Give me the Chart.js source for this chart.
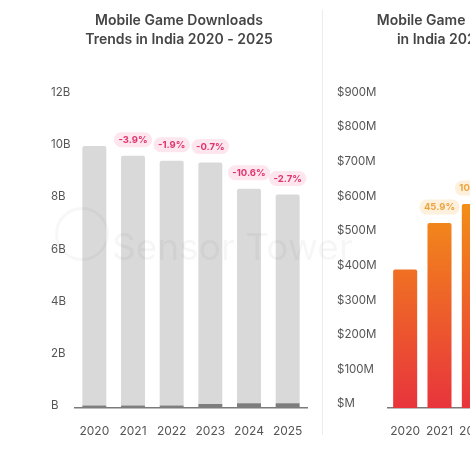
<!DOCTYPE html>
<html>
<head>
<meta charset="utf-8">
<script src="https://cdn.jsdelivr.net/npm/chart.js@4.4.0/dist/chart.umd.min.js"></script>
<style>
  body { margin: 0; background: #fff; }
  #wrap { position: relative; width: 470px; height: 470px; overflow: hidden; background: #fff; }
  #left { position: absolute; left: 0; top: 0; width: 322px; height: 470px; }
  #right { position: absolute; left: 323px; top: 0; width: 286px; height: 470px; }
  #divider { position: absolute; left: 322px; top: 10px; width: 1px; height: 425px; background: #ececec; }
  #mark { position: absolute; left: 112px; top: 224px; font-family: Inter, sans-serif; font-size: 37px; font-weight: 400;
          color: rgba(0,0,0,0.035); white-space: nowrap; pointer-events: none; }
  #logo { position: absolute; left: 55px; top: 207px; width: 54px; height: 54px; border-radius: 50%;
          border: 3px solid rgba(0,0,0,0.03); box-sizing: border-box; pointer-events: none; }
</style>
</head>
<body>
<div id="wrap">
  <div id="left"><canvas id="chartDownloads"></canvas></div>
  <div id="divider"></div>
  <div id="right"><canvas id="chartRevenue"></canvas></div>
  <div id="logo"></div>
  <div id="mark">Sensor Tower</div>
</div>
<script>
const years = ["2020", "2021", "2022", "2023", "2024", "2025"];

// downloads (billions): dark bottom segment + light rest
const dlBase = [0.1, 0.1, 0.1, 0.15, 0.18, 0.18];
const dlTotal = [10.03, 9.65, 9.46, 9.39, 8.39, 8.17];
const dlGrowth = ["", "-3.9%", "-1.9%", "-0.7%", "-10.6%", "-2.7%"];

// revenue (USD millions), 2023+ is outside the picture
const revenue = [400, 534, 589, 600, 625, 660];
const revGrowth = ["", "45.9%", "10.2%", "", "", ""];

const dlRest = dlTotal.map((v, i) => +(v - dlBase[i]).toFixed(2));

const FONT = "Inter, 'Noto Sans', sans-serif";

function roundRect(ctx, x, y, w, h, r) {
  ctx.beginPath();
  ctx.moveTo(x + r, y);
  ctx.arcTo(x + w, y, x + w, y + h, r);
  ctx.arcTo(x + w, y + h, x, y + h, r);
  ctx.arcTo(x, y + h, x, y, r);
  ctx.arcTo(x, y, x + w, y, r);
  ctx.closePath();
}

// pill labels above the bars
const badgePlugin = {
  id: 'badges',
  afterDatasetsDraw(chart, args, opts) {
    const ctx = chart.ctx;
    const meta = chart.getDatasetMeta(chart.data.datasets.length - 1);
    ctx.save();
    ctx.font = "700 9.5px " + FONT;
    ctx.textAlign = 'center';
    ctx.textBaseline = 'middle';
    meta.data.forEach((bar, i) => {
      const txt = opts.labels[i];
      if (!txt) return;
      const w = ctx.measureText(txt).width + 9;
      const cy = bar.y - 16;
      ctx.fillStyle = opts.bg;
      roundRect(ctx, bar.x - w / 2, cy - 7.5, w, 15, 7.5);
      ctx.fill();
      ctx.fillStyle = opts.color;
      ctx.fillText(txt, bar.x, cy + 0.5);
    });
    ctx.restore();
  }
};

const dataDownloads = {
  labels: years,
  datasets: [
    {
      label: 'base',
      data: dlBase,
      backgroundColor: '#7d7d7d',
      barPercentage: 0.62,
      categoryPercentage: 1
    }, {
      label: 'Downloads',
      data: dlRest,
      backgroundColor: '#d9d9d9',
      borderRadius: { topLeft: 2, topRight: 2 },
      borderSkipped: 'bottom',
      barPercentage: 0.62,
      categoryPercentage: 1
    }
  ]
};

const configDownloads = {
  type: 'bar',
  data: dataDownloads,
  plugins: [badgePlugin],
  options: {
    responsive: true,
    maintainAspectRatio: false,
    animation: false,
    layout: { padding: { left: 51, right: 15, top: 12, bottom: 30 } },
    plugins: {
      legend: { display: false },
      tooltip: { enabled: false },
      title: {
        display: true,
        text: ['Mobile Game Downloads', 'Trends in India 2020 - 2025'],
        color: '#454545',
        font: { family: FONT, size: 14, weight: '600', lineHeight: 1.3 },
        padding: { top: 0, bottom: 46 }
      },
      badges: { labels: dlGrowth, color: '#e2336d', bg: '#fde6ed' }
    },
    scales: {
      x: {
        stacked: true,
        grid: { display: false },
        border: { display: true, color: '#7a7a7a', width: 1.5 },
        ticks: { color: '#555', font: { family: FONT, size: 12 }, padding: 8, maxRotation: 0, autoSkip: false },
        afterFit: s => { s.height = 32; }
      },
      y: {
        stacked: true,
        min: 0,
        max: 12,
        grid: { display: false },
        border: { display: false },
        ticks: {
          stepSize: 2,
          color: '#555',
          crossAlign: 'far',
          labelOffset: -2,
          font: { family: FONT, size: 11.5 },
          callback: v => (v === 0 ? '' : v) + 'B'
        },
        afterFit: s => { s.width = 24; }
      }
    }
  }
};

const myChartDownloads = new Chart(document.getElementById('chartDownloads'), configDownloads);

const dataRevenue = {
  labels: years,
  datasets: [
    {
      label: 'Revenue',
      data: revenue,
      backgroundColor: function (c) {
        const area = c.chart.chartArea;
        if (!area) return '#ec5a2a';
        const g = c.chart.ctx.createLinearGradient(0, area.bottom, 0, area.top + 100);
        g.addColorStop(0, '#e8343c');
        g.addColorStop(1, '#f39116');
        return g;
      },
      borderRadius: { topLeft: 2, topRight: 2 },
      borderSkipped: 'bottom',
      barPercentage: 0.7,
      categoryPercentage: 1
    }
  ]
};

const configRevenue = {
  type: 'bar',
  data: dataRevenue,
  plugins: [badgePlugin],
  options: {
    responsive: true,
    maintainAspectRatio: false,
    animation: false,
    layout: { padding: { left: 14, right: 15, top: 12, bottom: 30 } },
    plugins: {
      legend: { display: false },
      tooltip: { enabled: false },
      title: {
        display: true,
        text: ['Mobile Game IAP Revenue', 'in India 2020 - 2025'],
        color: '#454545',
        font: { family: FONT, size: 14, weight: '600', lineHeight: 1.3 },
        padding: { top: 0, bottom: 48 }
      },
      badges: { labels: revGrowth, color: '#eea43c', bg: '#fdf0dd' }
    },
    scales: {
      x: {
        grid: { display: false },
        border: { display: true, color: '#7a7a7a', width: 1.5 },
        ticks: { color: '#555', font: { family: FONT, size: 12 }, padding: 8, maxRotation: 0, autoSkip: false },
        afterFit: s => { s.height = 32; }
      },
      y: {
        min: 0,
        max: 900,
        grid: { display: false },
        border: { display: false },
        ticks: {
          stepSize: 100,
          color: '#555',
          crossAlign: 'far',
          labelOffset: -4,
          font: { family: FONT, size: 11.5 },
          callback: v => '$' + (v === 0 ? '' : v) + 'M'
        },
        afterFit: s => { s.width = 51; }
      }
    }
  }
};

const myChartRevenue = new Chart(document.getElementById('chartRevenue'), configRevenue);
</script>
</body>
</html>
